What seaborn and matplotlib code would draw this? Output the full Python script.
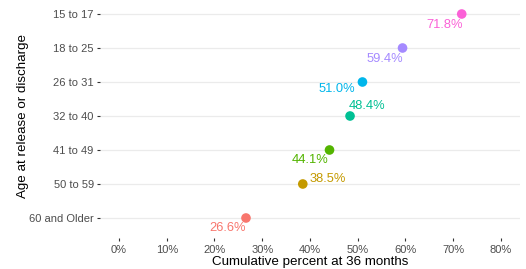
import matplotlib
matplotlib.use("Agg")
import matplotlib.pyplot as plt
import seaborn as sns
import pandas as pd
from matplotlib.ticker import FuncFormatter, MultipleLocator

ages = ["60 and Older", "50 to 59", "41 to 49", "32 to 40", "26 to 31", "18 to 25", "15 to 17"]
percent = [26.6, 38.5, 44.1, 48.4, 51.0, 59.4, 71.8]
colors = ["#F8766D", "#C49A00", "#53B400", "#00C094", "#00B6EB", "#A58AFF", "#FB61D7"]

# label placement (pixel offsets from dot, horizontal alignment)
label_dx = [0, 7, -1, -1, -7, 1, 1]
label_dy = [-10, 5, -10, 10, -7, -11, -11]
label_ha = ["right", "left", "right", "left", "right", "right", "right"]

df = pd.DataFrame({"age": ages, "pct": [p / 100 for p in percent]})

sns.set_theme(style="white")
plt.rcParams["font.family"] = ["Liberation Sans", "DejaVu Sans"]

fig = plt.figure(figsize=(5.26, 2.69), dpi=100)
ax = fig.add_axes([0.190, 0.1138, 0.7985, 0.910])

sns.scatterplot(data=df, x="pct", y="age", hue="age", palette=colors,
                s=48, linewidth=0, legend=False, ax=ax, zorder=3)

for i, (a, p) in enumerate(zip(ages, percent)):
    ax.annotate(f"{p:.1f}%", xy=(p / 100, i), xytext=(label_dx[i], label_dy[i]),
                textcoords="offset pixels", ha=label_ha[i], va="center",
                color=colors[i], fontsize=9.3)

ax.set_xlim(-0.04, 0.84)
ax.set_ylim(-0.6, 6.6)
ax.xaxis.set_major_locator(MultipleLocator(0.1))
ax.xaxis.set_major_formatter(FuncFormatter(lambda v, _: f"{v*100:.0f}%"))

ax.grid(axis="y", color="#EBEBEB", linewidth=0.9)
ax.grid(axis="x", visible=False)
ax.set_axisbelow(True)
for s in ax.spines.values():
    s.set_visible(False)

ax.tick_params(axis="both", which="major", length=2.5, width=0.8, color="#333333",
               labelsize=8, labelcolor="#4D4D4D", pad=2, bottom=True, left=True)
ax.set_xlabel("Cumulative percent at 36 months", fontsize=9.6, color="black", labelpad=1)
ax.set_ylabel("Age at release or discharge", fontsize=9.6, color="black", labelpad=0)

fig.savefig("out.png", dpi=100)
